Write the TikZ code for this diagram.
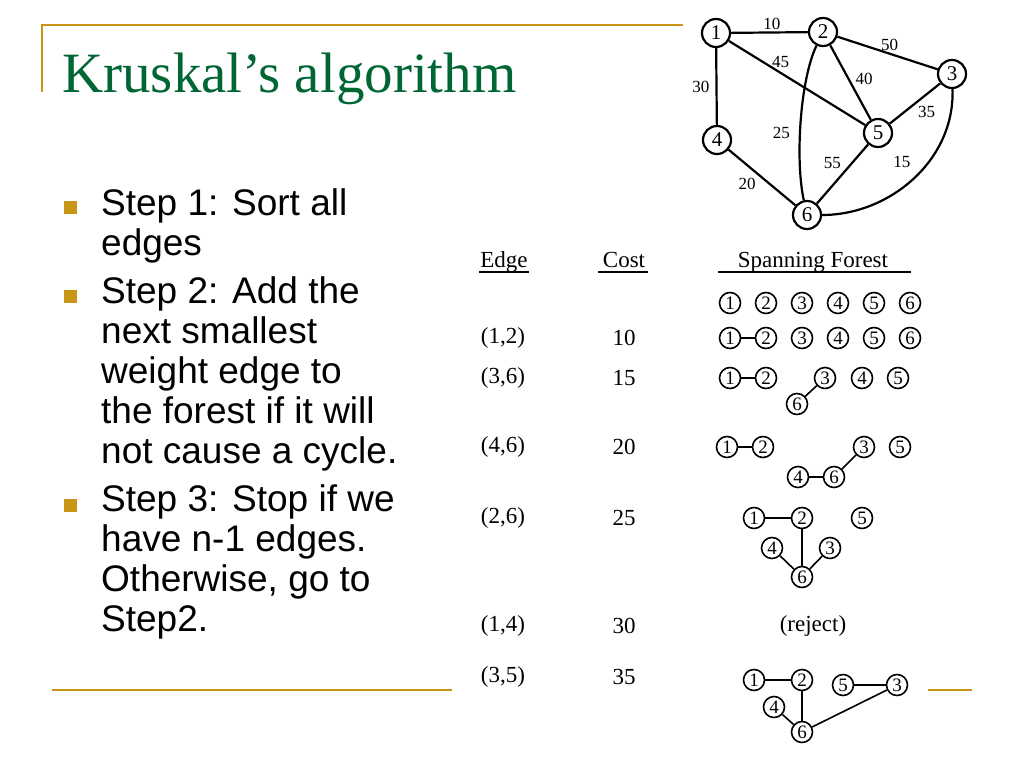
\documentclass[tikz,border=0pt]{standalone}
\usepackage{fontspec}
\setmainfont{Liberation Serif}
\setsansfont{Liberation Sans}
\usepackage{xcolor}
\usepackage{tikz}
\usetikzlibrary{positioning}

\definecolor{slidegold}{RGB}{200,150,20}
\definecolor{titlegreen}{RGB}{0,102,51}

\tikzset{
  vtx/.style={circle, draw, line width=2.2pt, inner sep=0pt, minimum size=28pt,
    font=\fontsize{21}{21}\selectfont},
  fvtx/.style={circle, draw, line width=1.6pt, inner sep=0pt, minimum size=21pt,
    font=\fontsize{19}{19}\selectfont},
  wt/.style={font=\fontsize{17}{17}\selectfont, inner sep=2pt},
  tabtxt/.style={font=\fontsize{23}{23}\selectfont, inner sep=0pt},
  gedge/.style={line width=2.2pt},
  fedge/.style={line width=1.6pt},
  goldline/.style={slidegold, line width=2pt},
  bullet/.style={rectangle, fill=slidegold, inner sep=0pt, minimum size=13pt},
  steptxt/.style={font=\sffamily\fontsize{37}{40}\selectfont, align=left, inner sep=0pt}
}

\begin{document}
\begin{tikzpicture}[x=1pt, y=-1pt]
  \useasboundingbox[fill=white] (0,0) rectangle (1024,768);

  % slide frame
  \draw [goldline] (42,92) -- (42,25) -- (683,25);
  \draw [goldline] (52,690) -- (452,690);
  \draw [goldline] (928,690) -- (972,690);
  \node [anchor=base west, inner sep=0pt, text=titlegreen,
    font=\fontsize{57}{57}\selectfont] (title) at (62,92) {Kruskal's algorithm};

  % steps (base = last line)
  \node [bullet] (b1) at (70,207) {};
  \node [bullet] (b2) at (70,296) {};
  \node [bullet] (b3) at (70,505) {};
  \node [steptxt, anchor=base west] (s1) at (101,255) {Step 1: Sort all\\edges};
  \node [steptxt, anchor=base west] (s2) at (101,463) {Step 2: Add the\\next smallest\\weight edge to\\the forest if it will\\not cause a cycle.};
  \node [steptxt, anchor=base west] (s3) at (101,631) {Step 3: Stop if we\\have n-1 edges.\\Otherwise, go to\\Step2.};

  % graph
  \node [vtx] (G1) at (716,33) {1};
  \node [vtx] (G2) at (823,32) {2};
  \node [vtx] (G3) at (952,74) {3};
  \node [vtx] (G4) at (717,140) {4};
  \node [vtx] (G5) at (878,133) {5};
  \node [vtx] (G6) at (807,215) {6};

  \draw [gedge] (G1) -- node[wt, above, pos=0.53] {10} (G2);
  \draw [gedge] (G1) -- node[wt, left=4pt] {30} (G4);
  \draw [gedge] (G1) -- node[wt, above=2pt, pos=0.38] {45} (G5);
  \draw [gedge] (G2) -- node[wt, above, pos=0.52] {50} (G3);
  \draw [gedge] (G2) -- node[wt, right=4pt, pos=0.45] {40} (G5);
  \draw [gedge] (G2) .. controls (800,80) and (795,160) .. node[wt, left=7pt, pos=0.57] {25} (G6);
  \draw [gedge] (G3) -- node[wt, below right, pos=0.5] {35} (G5);
  \draw [gedge] (G3) .. controls (955,160) and (890,215) .. node[wt, above left=2pt and 6pt, pos=0.46] {15} (G6);
  \draw [gedge] (G5) -- node[wt, above left, pos=0.47] {55} (G6);
  \draw [gedge] (G4) -- node[wt, below left, pos=0.45] {20} (G6);

  % table header
  \node [tabtxt, anchor=base] (hE) at (504,267) {Edge};
  \node [tabtxt, anchor=base] (hC) at (624,267) {Cost};
  \node [tabtxt, anchor=base] (hF) at (813,267) {Spanning Forest};
  \draw [line width=2pt] (479,272) -- (529,272);
  \draw [line width=2pt] (598,272) -- (648,272);
  \draw [line width=2pt] (718,272) -- (911,272);

  % table rows
  \node [tabtxt] (e1) at (503,338) {(1,2)};  \node [tabtxt] (c1) at (624,338) {10};
  \node [tabtxt] (e2) at (503,378) {(3,6)};  \node [tabtxt] (c2) at (624,378) {15};
  \node [tabtxt] (e3) at (503,447) {(4,6)};  \node [tabtxt] (c3) at (624,447) {20};
  \node [tabtxt] (e4) at (503,518) {(2,6)};  \node [tabtxt] (c4) at (624,518) {25};
  \node [tabtxt] (e5) at (503,626) {(1,4)};  \node [tabtxt] (c5) at (624,626) {30};
  \node [tabtxt] (e6) at (503,677) {(3,5)};  \node [tabtxt] (c6) at (624,677) {35};

  % forest: start
  \node [fvtx] (A1) at (730,303) {1};
  \node [fvtx, right of=A1, node distance=36pt] (A2) {2};
  \node [fvtx, right of=A2, node distance=36pt] (A3) {3};
  \node [fvtx, right of=A3, node distance=36pt] (A4) {4};
  \node [fvtx, right of=A4, node distance=36pt] (A5) {5};
  \node [fvtx, right of=A5, node distance=36pt] (A6) {6};

  % forest: (1,2)
  \node [fvtx] (B1) at (730,338) {1};
  \node [fvtx, right of=B1, node distance=36pt] (B2) {2};
  \node [fvtx, right of=B2, node distance=36pt] (B3) {3};
  \node [fvtx, right of=B3, node distance=36pt] (B4) {4};
  \node [fvtx, right of=B4, node distance=36pt] (B5) {5};
  \node [fvtx, right of=B5, node distance=36pt] (B6) {6};
  \draw [fedge] (B1) -- (B2);

  % forest: (3,6)
  \node [fvtx] (C1) at (730,378) {1};
  \node [fvtx] (C2) at (766,378) {2};
  \node [fvtx] (C3) at (825,378) {3};
  \node [fvtx] (C4) at (862,378) {4};
  \node [fvtx] (C5) at (898,378) {5};
  \node [fvtx] (C6) at (797,404) {6};
  \draw [fedge] (C1) -- (C2);
  \draw [fedge] (C6) -- (C3);

  % forest: (4,6)
  \node [fvtx] (D1) at (727,447) {1};
  \node [fvtx] (D2) at (763,447) {2};
  \node [fvtx] (D3) at (864,447) {3};
  \node [fvtx] (D5) at (900,447) {5};
  \node [fvtx] (D4) at (798,477) {4};
  \node [fvtx] (D6) at (834,477) {6};
  \draw [fedge] (D1) -- (D2);
  \draw [fedge] (D4) -- (D6);
  \draw [fedge] (D6) -- (D3);

  % forest: (2,6)
  \node [fvtx] (E1) at (754,518) {1};
  \node [fvtx] (E2) at (802,518) {2};
  \node [fvtx] (E5) at (862,518) {5};
  \node [fvtx] (E4) at (772,548) {4};
  \node [fvtx] (E3) at (830,548) {3};
  \node [fvtx] (E6) at (802,577) {6};
  \draw [fedge] (E1) -- (E2);
  \draw [fedge] (E2) -- (E6);
  \draw [fedge] (E4) -- (E6);
  \draw [fedge] (E3) -- (E6);

  % forest: (1,4)
  \node [tabtxt] (rej) at (813,626) {(reject)};

  % forest: (3,5)
  \node [fvtx] (F1) at (754,680) {1};
  \node [fvtx] (F2) at (802,680) {2};
  \node [fvtx] (F5) at (843,685) {5};
  \node [fvtx] (F3) at (897,685) {3};
  \node [fvtx] (F4) at (774,707) {4};
  \node [fvtx] (F6) at (802,732) {6};
  \draw [fedge] (F1) -- (F2);
  \draw [fedge] (F2) -- (F6);
  \draw [fedge] (F4) -- (F6);
  \draw [fedge] (F5) -- (F3);
  \draw [fedge] (F6) -- (F3);
\end{tikzpicture}
\end{document}
